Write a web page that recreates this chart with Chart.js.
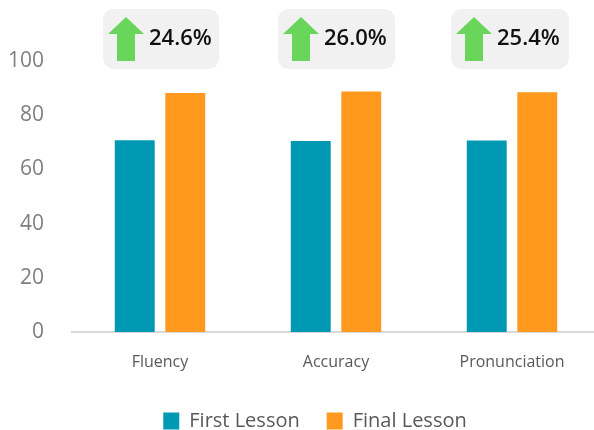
<!DOCTYPE html>
<html>
<head>
<meta charset="utf-8">
<script src="https://cdn.jsdelivr.net/npm/chart.js@4"></script>
<style>
html, body { margin: 0; padding: 0; background: #fff; overflow: hidden; }
</style>
</head>
<body>
<canvas id="myChart" width="600" height="441"></canvas>
<script>
const categories = ['Fluency', 'Accuracy', 'Pronunciation'];
const firstLesson = [70.8, 70.5, 70.7];
const finalLesson = [88.2, 88.7, 88.5];
const gains = ['24.6%', '26.0%', '25.4%'];
const yTicks = [0, 20, 40, 60, 80, 100];
const fontName = '"Open Sans", "Noto Sans", sans-serif';

// grey boxes with the green arrow above each group
const badges = {
    id: 'badges',
    afterLayout(chart) {
        // legend sits a bit right of the canvas centre
        chart.legend.left += 15;
        chart.legend.right += 15;
    },
    afterDraw(chart) {
        const ctx = chart.ctx;
        const shift = [-57, -58, -61];
        const widths = [116, 117, 118];
        gains.forEach((txt, i) => {
            const x = chart.scales.x.getPixelForValue(i) + shift[i];
            ctx.save();
            ctx.fillStyle = '#f1f1f1';
            ctx.beginPath();
            ctx.roundRect(x, 9, widths[i], 60, 11);
            ctx.fill();

            const ax = x + 23;
            ctx.fillStyle = '#69d65b';
            ctx.beginPath();
            ctx.moveTo(ax, 17);
            ctx.lineTo(ax + 18, 34);
            ctx.lineTo(ax + 9, 34);
            ctx.lineTo(ax + 9, 61);
            ctx.lineTo(ax - 9, 61);
            ctx.lineTo(ax - 9, 34);
            ctx.lineTo(ax - 18, 34);
            ctx.closePath();
            ctx.fill();

            ctx.fillStyle = '#111';
            ctx.font = '600 22px ' + fontName;
            ctx.textBaseline = 'middle';
            ctx.fillText(txt, x + 46, 39);
            ctx.restore();
        });
    }
};

new Chart(document.getElementById('myChart'), {
    type: 'bar',
    data: {
        labels: categories,
        datasets: [
            { label: 'First Lesson', data: firstLesson, backgroundColor: '#0099b4' },
            { label: 'Final Lesson', data: finalLesson, backgroundColor: '#ff9a1f' }
        ]
    },
    options: {
        responsive: false,
        animation: false,
        categoryPercentage: 0.574,
        barPercentage: 0.79,
        layout: { padding: { top: 61, left: 0, right: 0, bottom: 0 } },
        scales: {
            x: {
                grid: { display: false },
                border: { color: '#d9d9d9', width: 2 },
                ticks: { color: '#595959', font: { family: fontName, size: 16 }, padding: 13 },
                afterFit(scale) { scale.height = 52; }
            },
            y: {
                min: 0,
                max: 100,
                grid: { display: false, drawTicks: false },
                border: { display: false },
                afterBuildTicks(scale) { scale.ticks = yTicks.map(v => ({ value: v })); },
                ticks: { color: '#7f7f7f', font: { family: fontName, size: 21 }, padding: 28 },
                afterFit(scale) { scale.width = 72; }
            }
        },
        plugins: {
            tooltip: { enabled: false },
            legend: {
                position: 'bottom',
                labels: {
                    color: '#595959',
                    boxWidth: 16,
                    boxHeight: 17,
                    padding: 27,
                    font: { family: fontName, size: 20 }
                }
            }
        }
    },
    plugins: [badges]
});
</script>
</body>
</html>
